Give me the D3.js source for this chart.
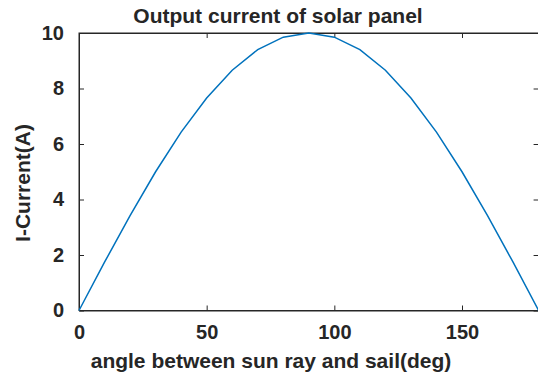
<!DOCTYPE html>
<html>
<head>
<meta charset="utf-8">
<script src="https://cdn.jsdelivr.net/npm/d3@7"></script>
<style>
  body { margin: 0; background: #fff; }
  text { font-family: "Liberation Sans", Arial, sans-serif; font-weight: bold; fill: #262626; }
</style>
</head>
<body>
<div id="chart"></div>
<script>
const width = 538, height = 373;

// angle (deg) vs output current (A)
const angles = [0, 10, 20, 30, 40, 50, 60, 70, 80, 90, 100, 110, 120, 130, 140, 150, 160, 170, 180];
const current = [0, 1.74, 3.42, 5.0, 6.43, 7.66, 8.66, 9.4, 9.85, 10, 9.85, 9.4, 8.66, 7.66, 6.43, 5.0, 3.42, 1.74, 0];
const xTicks = [0, 50, 100, 150];
const yTicks = [0, 2, 4, 6, 8, 10];

const margin = {left: 79, top: 33, right: 538.6, bottom: 310.5};

let svg = d3.select('#chart')
    .append('svg')
      .attr('width', width)
      .attr('height', height);

const x = d3.scaleLinear().domain([0, 180]).range([margin.left, margin.right]);
const y = d3.scaleLinear().domain([0, 10]).range([margin.bottom, margin.top]);

const axisColor = '#262626';

// frame
svg.append('rect')
    .attr('x', margin.left)
    .attr('y', margin.top)
    .attr('width', margin.right - margin.left)
    .attr('height', margin.bottom - margin.top)
    .attr('fill', 'none')
    .attr('stroke', axisColor)
    .attr('stroke-width', 1);

// bottom axis, ticks pointing inwards
svg.append('g')
    .attr('transform', `translate(0,${margin.bottom})`)
    .call(d3.axisBottom(x).tickValues(xTicks).tickSize(-5).tickPadding(14).tickSizeOuter(0));
// top ticks
svg.append('g')
    .attr('transform', `translate(0,${margin.top})`)
    .call(d3.axisTop(x).tickValues(xTicks).tickSize(-5).tickFormat('').tickSizeOuter(0));

svg.append('g')
    .attr('transform', `translate(${margin.left},0)`)
    .call(d3.axisLeft(y).tickValues(yTicks).tickSize(-5).tickPadding(15).tickSizeOuter(0));
svg.append('g')
    .attr('transform', `translate(${margin.right},0)`)
    .call(d3.axisRight(y).tickValues(yTicks).tickSize(-5).tickFormat('').tickSizeOuter(0));

svg.selectAll('.domain').attr('stroke', axisColor);
svg.selectAll('.tick line').attr('stroke', axisColor);
svg.selectAll('.tick text')
    .style('font-size', '20px')
    .style('font-family', '"Liberation Sans", Arial, sans-serif')
    .style('font-weight', 'bold')
    .attr('fill', axisColor);

// the curve
const line = d3.line()
    .x((d, i) => x(angles[i]))
    .y(d => y(d));

svg.append('path')
    .datum(current)
    .attr('d', line)
    .attr('fill', 'none')
    .attr('stroke', '#0072BD')
    .attr('stroke-width', 1.5);

// labels
svg.append('text')
    .attr('x', 278)
    .attr('y', 23)
    .attr('text-anchor', 'middle')
    .style('font-size', '21px')
    .attr('fill', '#000')
    .text('Output current of solar panel');

svg.append('text')
    .attr('x', 271)
    .attr('y', 368)
    .attr('text-anchor', 'middle')
    .style('font-size', '21px')
    .text('angle between sun ray and sail(deg)');

svg.append('text')
    .attr('transform', 'translate(30,183) rotate(-90)')
    .attr('text-anchor', 'middle')
    .style('font-size', '21px')
    .text('I-Current(A)');
</script>
</body>
</html>
